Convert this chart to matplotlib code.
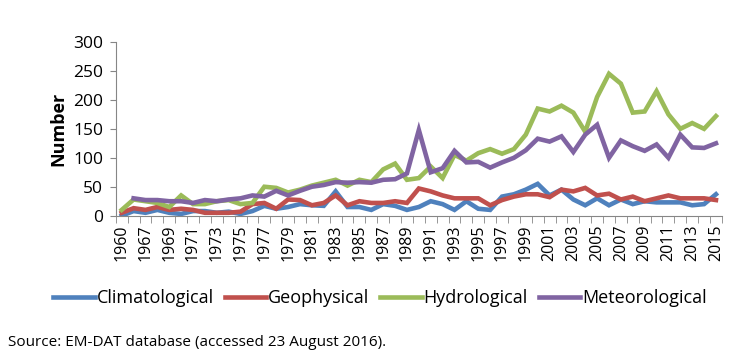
import matplotlib
matplotlib.use("Agg")
import matplotlib.pyplot as plt
import numpy as np

years = ["1960", "1966"] + [str(y) for y in range(1967, 2016)]

climatological = [0, 8, 5, 10, 5, 3, 8, 8, 5, 7, 3, 8, 17, 12, 15, 20, 18, 17, 42, 15,
                  15, 10, 20, 17, 10, 15, 25, 20, 10, 25, 12, 10, 33, 37, 45, 55, 35, 45, 28, 18,
                  30, 18, 28, 20, 25, 23, 23, 23, 18, 20, 37]
geophysical = [5, 13, 10, 15, 10, 12, 10, 5, 5, 5, 7, 20, 22, 12, 28, 27, 18, 22, 35, 18,
               25, 22, 22, 25, 22, 47, 42, 35, 30, 30, 30, 18, 27, 33, 37, 37, 32, 45, 42, 48,
               35, 38, 28, 33, 25, 30, 35, 30, 30, 30, 27]
hydrological = [10, 28, 25, 22, 15, 35, 20, 20, 25, 27, 20, 22, 50, 48, 40, 45, 52, 57, 62, 52,
                62, 58, 80, 90, 62, 65, 85, 65, 105, 95, 108, 115, 107, 115, 140, 185, 180, 190, 178, 145,
                205, 245, 228, 178, 180, 215, 175, 150, 160, 150, 172]
meteorological = [np.nan, 30, 27, 27, 25, 25, 22, 27, 25, 28, 30, 35, 33, 43, 35, 43, 50, 53, 58, 57,
                  58, 57, 62, 63, 73, 148, 75, 82, 112, 92, 93, 83, 92, 100, 113, 133, 128, 137, 110, 140,
                  157, 100, 130, 120, 112, 123, 100, 140, 118, 117, 125]

series = [("Climatological", climatological, "#4F81BD"),
          ("Geophysical", geophysical, "#C0504D"),
          ("Hydrological", hydrological, "#9BBB59"),
          ("Meteorological", meteorological, "#8064A2")]

plt.rcParams['font.family'] = ['Open Sans', 'DejaVu Sans']

fig = plt.figure(figsize=(7.45, 3.61), dpi=100)
ax = fig.add_axes([0.1554, 0.4025, 0.969 - 0.1554, 0.8837 - 0.4025])

x = np.arange(len(years))
for name, vals, col in series:
    ax.plot(x, vals, color=col, lw=3.3, label=name, solid_joinstyle='miter')

ax.set_xlim(-0.5, len(years) - 0.5)
ax.set_ylim(0, 300)
ax.set_yticks([0, 50, 100, 150, 200, 250, 300])
ax.tick_params(axis='y', labelsize=12.5, length=4, color='#868686', pad=5)

ax.set_xticks(x[::2])
ax.set_xticklabels(years[::2], rotation=90, fontsize=11.5)
ax.set_xticks(np.arange(-0.5, len(years), 1), minor=True)
ax.tick_params(axis='x', which='major', length=0, pad=6)
ax.tick_params(axis='x', which='minor', length=5, color='#868686')

for s in ['top', 'right']:
    ax.spines[s].set_visible(False)
for s in ['left', 'bottom']:
    ax.spines[s].set_color('#868686')

ax.set_ylabel("Number", fontsize=13, fontweight='bold', labelpad=4)

fig.legend(loc='center', bbox_to_anchor=(380 / 745, 1 - 298 / 361), ncol=4, frameon=False,
           fontsize=13, handlelength=2.3, handletextpad=0.1, columnspacing=0.6)

fig.text(8 / 745, 1 - 342 / 361, "Source: EM-DAT database (accessed 23 August 2016).",
         fontsize=11, va='center', ha='left')

fig.savefig("out.png", dpi=100)
